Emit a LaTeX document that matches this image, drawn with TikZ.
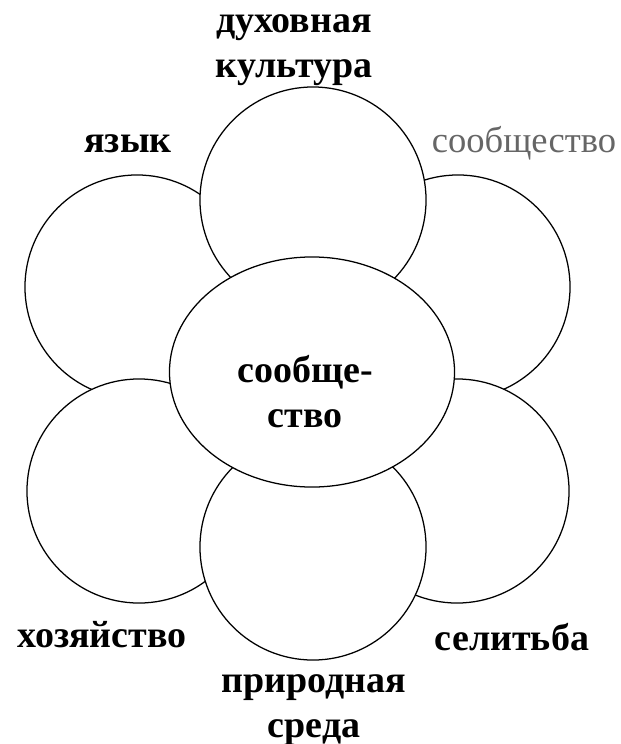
\documentclass[tikz,border=0pt]{standalone}
\usepackage{fontspec}
\setmainfont{Liberation Serif}
\usepackage{xcolor}
\usetikzlibrary{shapes.geometric}

\begin{document}
\begin{tikzpicture}[x=0.025cm, y=-0.025cm,
  petal/.style={circle, draw, line width=0.9pt, fill=white, inner sep=0pt, minimum size=5.6cm},
  core/.style={ellipse, draw, line width=0.9pt, fill=white, inner sep=0pt,
    minimum width=7.125cm, minimum height=5.75cm},
  word/.style={font=\bfseries\fontsize{27}{32}\selectfont, align=center, inner sep=0pt}]
  \useasboundingbox (0,0) rectangle (620,744);

  % Lepestki: snachala bokovye, potom verhnij i nizhnij
  \node[petal] (ul) at (137,287) {};
  \node[petal] (ur) at (458,287) {};
  \node[petal] (ll) at (139,491) {};
  \node[petal] (lr) at (457,491) {};
  \node[petal, minimum size=5.65cm] (top) at (313,200) {};
  \node[petal, minimum size=5.65cm] (bot) at (313,547) {};

  % Serdcevina
  \node[core] (core) at (312,372) {};
  \node[word] (coretxt) at (305,392) {сообще-\\ство};

  % Podpisi
  \node[word] (cult) at (294,50) {духовная\\культура};
  \node[word] (lang) at (128,144) {язык};
  \node[word, font=\mdseries\fontsize{26}{32}\selectfont, text=black!60] (comm) at (524,143) {сообщество};
  \node[word] (econ) at (102,635) {хозяйство};
  \node[word] (sett) at (512,637) {селитьба};
  \node[word] (nat) at (314,710) {природная\\среда};
\end{tikzpicture}
\end{document}
